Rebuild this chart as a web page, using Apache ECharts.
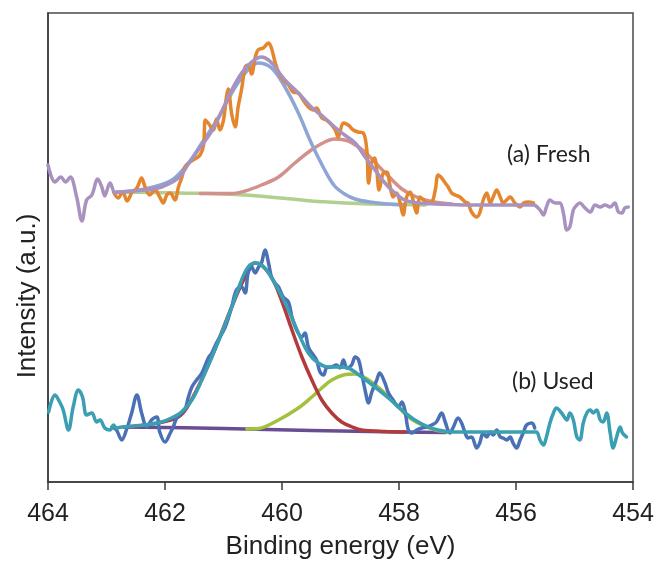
<!DOCTYPE html>
<html>
<head>
<meta charset="utf-8">
<script src="https://cdn.jsdelivr.net/npm/echarts@6/dist/echarts.min.js"></script>
<style>
html,body{margin:0;padding:0;background:#fff;}
#chart{width:661px;height:568px;}
</style>
</head>
<body>
<div id="chart"></div>
<script>
// ---------- axis ----------
const xTicks = [464, 462, 460, 458, 456, 454];
const xTitle = 'Binding energy (eV)';
const yTitle = 'Intensity (a.u.)';
const labelFresh = '(a) Fresh';
const labelUsed = '(b) Used';

// ---------- (a) Fresh ----------
const freshEnvE = [464.00,463.88,463.78,463.70,463.62,463.51,463.42,463.34,463.25,463.15,463.08,463.03,462.94,462.85,
  462.77,462.34,462.06,461.77,461.60,461.43,461.19,461.02,460.86,460.69,460.52,460.35,460.23,460.12,459.95,459.72,459.50,459.27,459.10,458.93,458.75,458.58,458.41,458.24,458.07,457.90,457.67,457.38,456.82,456.25,455.70,
  455.59,455.53,455.48,455.42,455.33,455.25,455.19,455.13,455.08,455.02,454.96,454.91,454.82,454.73,454.65,454.56,454.48,454.39,454.31,454.25,454.19,454.14,454.08];
const freshEnvI = [317,300,305,300,305,285,261,282,287,303,295,286,299,289,
  290,292,295,304,318,332,352,372,392,409,420,425,422,415,402,389,375,364,355,347,339,325,312,299,289,282,279,278,277,277,277,
  272,267,275,282,279,279,269,252,255,272,277,279,274,270,277,275,277,275,279,270,269,274,275];

const freshRawE = [462.88,462.80,462.72,462.65,462.56,462.48,462.40,462.34,462.26,462.17,462.09,462.03,461.97,461.91,461.83,461.77,461.71,461.66,461.57,461.49,461.40,461.34,461.31,461.25,461.17,461.12,461.06,461.00,460.95,460.92,460.86,460.80,460.75,460.69,460.63,460.58,460.52,460.46,460.41,460.32,460.23,460.18,460.12,460.06,459.98,459.89,459.81,459.72,459.64,459.55,459.46,459.41,459.32,459.24,459.15,459.09,459.04,458.95,458.87,458.78,458.70,458.61,458.55,458.52,458.47,458.42,458.38,458.34,458.27,458.21,458.15,458.10,458.04,457.98,457.93,457.87,457.81,457.76,457.70,457.64,457.58,457.53,457.44,457.38,457.33,457.27,457.21,457.16,457.10,457.04,456.96,456.87,456.82,456.76,456.67,456.62,456.56,456.50,456.44,456.39,456.33,456.27,456.22,456.16,456.10,456.02,455.93,455.87,455.79,455.70];
const freshRawI = [290,284,290,281,290,294,304,295,287,292,285,279,287,289,282,295,305,315,320,323,327,337,362,358,352,363,352,362,385,393,368,355,375,393,415,417,408,424,432,434,439,434,420,410,402,397,390,389,382,375,372,374,364,362,357,352,345,359,357,352,350,349,332,299,319,324,312,292,309,310,295,285,289,279,267,285,290,282,269,285,282,279,280,292,307,304,299,295,289,287,285,280,279,270,265,269,282,289,279,285,292,285,279,282,285,279,275,279,280,279];

const freshPeak1E = [462.83,462.34,461.88,461.60,461.37,461.08,460.86,460.63,460.41,460.18,459.95,459.72,459.50,459.27,459.10,458.93,458.75,458.50,458.20,457.90];
const freshPeak1I = [290,293,302,319,339,365,389,409,419,414,395,369,339,312,296,288,283,280,278,277];

const freshPeak2E = [461.40,460.86,460.63,460.35,460.06,459.78,459.50,459.27,459.10,458.93,458.80,458.60,458.40,458.20,457.95,457.70,457.40,457.10];
const freshPeak2I = [288.5,288.5,291,297,305,319,332,340,343,342,339,331,319,307,293,285,280,278];

const freshBaseE = [462.83,461.77,460.63,459.50,458.93,458.50,457.90,457.55];
const freshBaseI = [290,289,287,281,279,278,277.5,277];

// ---------- (b) Used ----------
const usedEnvE = [463.99,463.88,463.80,463.74,463.65,463.57,463.48,463.41,463.34,463.25,463.17,463.11,463.03,462.94,462.88,462.83,462.74,
  462.34,462.06,461.89,461.72,461.54,461.37,461.20,461.03,460.86,460.69,460.58,460.46,460.35,460.23,460.06,459.89,459.72,459.55,459.38,459.21,459.04,458.87,458.64,458.41,458.18,457.95,457.73,457.50,457.33,457.10,456.53,455.75,
  455.65,455.59,455.53,455.48,455.42,455.36,455.31,455.22,455.13,455.08,455.02,454.96,454.91,454.85,454.79,454.73,454.68,454.62,454.56,454.51,454.45,454.39,454.34,454.28,454.22,454.18,454.11];
const usedEnvI = [70,87,80,72,52,75,92,85,67,69,60,62,54,52,57,54,55,
  57,60,64,70,82,102,125,149,175,202,215,219,217,209,192,172,149,129,119,115,115,114,105,95,84,72,62,55,52,50,50,50,
  50,42,37,45,59,69,74,69,62,69,62,45,42,59,69,72,69,72,62,60,69,49,34,45,55,49,45];

const usedRawE = [462.91,462.83,462.74,462.66,462.57,462.48,462.40,462.31,462.23,462.14,462.09,462.00,461.91,461.86,461.80,461.72,461.66,461.60,461.54,461.46,461.37,461.26,461.20,461.12,460.97,460.86,460.78,460.69,460.63,460.58,460.52,460.46,460.40,460.35,460.29,460.23,460.18,460.12,460.06,459.98,459.89,459.83,459.75,459.66,459.61,459.55,459.49,459.41,459.35,459.29,459.24,459.15,459.07,459.01,458.95,458.89,458.81,458.75,458.69,458.64,458.58,458.52,458.47,458.38,458.33,458.24,458.18,458.10,458.01,457.95,457.90,457.84,457.78,457.70,457.61,457.53,457.44,457.36,457.27,457.21,457.13,457.07,456.99,456.93,456.87,456.82,456.76,456.67,456.62,456.56,456.50,456.44,456.39,456.33,456.27,456.22,456.16,456.10,456.05,455.99,455.93,455.87,455.82,455.73,455.68];
const usedRawI = [55,52,42,52,69,87,69,55,62,65,50,40,49,55,64,69,72,85,95,102,109,124,129,139,155,175,192,195,189,209,215,209,215,219,232,219,205,199,195,185,180,165,152,145,149,135,129,122,110,107,114,115,117,114,122,114,117,125,122,109,92,79,89,102,109,99,89,82,75,80,72,52,49,52,54,55,57,60,69,60,49,55,64,59,49,44,45,34,39,49,45,50,47,52,45,44,42,45,39,34,42,50,57,59,54];

const usedPeak1E = [462.70,462.34,461.77,461.54,461.20,460.86,460.63,460.46,460.35,460.18,460.01,459.83,459.66,459.49,459.32,459.15,458.98,458.80,458.64,458.24,457.90];
const usedPeak1I = [55,57,65,83,125,175,205,219,217,205,182,152,125,102,82,69,60,55,52,50.5,50];

const usedPeak2E = [460.60,460.40,460.06,459.72,459.49,459.32,459.15,458.95,458.75,458.52,458.30,458.07,457.84,457.61,457.38,457.16];
const usedPeak2I = [53,53.5,62,74,85,94,102,107,108,102,92,79,65,57,52,50];

const usedBaseE = [462.70,461.00,459.50,458.50,457.20];
const usedBaseI = [55,53.5,51.5,50.5,49.5];

// ---------- build ----------
function zip(e, i){ return e.map((v, k) => [v, i[k]]); }
function line(name, e, i, color, width, z){
  return {
    name: name, type: 'line', data: zip(e, i), showSymbol: false, symbol: 'none',
    smooth: 0.35, z: z,
    lineStyle: { color: color, width: width, cap: 'round', join: 'round' },
    emphasis: { disabled: true }
  };
}

const chart = echarts.init(document.getElementById('chart'), null, { renderer: 'canvas' });
const axisFont = 'Liberation Sans, Arial, sans-serif';
chart.setOption({
  animation: false,
  backgroundColor: '#ffffff',
  grid: { left: 48, right: 28, top: 13, bottom: 86, show: true, borderColor: '#4a4a4a', borderWidth: 1.5, backgroundColor: 'transparent' },
  xAxis: {
    type: 'value', inverse: true, min: 454, max: 464, interval: 2,
    axisLine: { show: true, lineStyle: { color: '#3a3a3a', width: 1.5 } },
    axisTick: { show: true, length: 8, lineStyle: { color: '#3a3a3a', width: 1.5 } },
    axisLabel: { color: '#222', fontSize: 25, fontFamily: axisFont, margin: 20,
      formatter: v => xTicks.indexOf(v) >= 0 ? String(v) : '' },
    splitLine: { show: false },
    name: xTitle, nameLocation: 'middle', nameGap: 52,
    nameTextStyle: { color: '#222', fontSize: 26, fontFamily: axisFont }
  },
  yAxis: {
    type: 'value', min: 0, max: 469,
    axisLine: { show: true, lineStyle: { color: '#3a3a3a', width: 1.5 } },
    axisTick: { show: false }, axisLabel: { show: false }, splitLine: { show: false }
  },
  graphic: [
    { type: 'text', x: 28, y: 296, rotation: Math.PI / 2,
      style: { text: yTitle, fill: '#222', font: '26px ' + axisFont, align: 'center', verticalAlign: 'middle' } },
    { type: 'text', left: 507, top: 143,
      style: { text: labelFresh, fill: '#222', font: '23px Lato, "Open Sans", sans-serif' } },
    { type: 'text', left: 512, top: 370,
      style: { text: labelUsed, fill: '#222', font: '23px Lato, "Open Sans", sans-serif' } }
  ],
  series: [
    line('fresh baseline', freshBaseE, freshBaseI, '#b2cf8e', 3.5, 2),
    line('fresh peak 2', freshPeak2E, freshPeak2I, '#d3918e', 3.5, 3),
    line('fresh peak 1', freshPeak1E, freshPeak1I, '#8ea6d6', 3.5, 4),
    line('fresh raw', freshRawE, freshRawI, '#e4862e', 3.5, 5),
    line('fresh envelope', freshEnvE, freshEnvI, '#a892c0', 3.5, 6),
    line('used baseline', usedBaseE, usedBaseI, '#6a4c93', 3.5, 2),
    line('used peak 2', usedPeak2E, usedPeak2I, '#a3c03e', 3.5, 3),
    line('used peak 1', usedPeak1E, usedPeak1I, '#b23a3a', 3.5, 4),
    line('used raw', usedRawE, usedRawI, '#4a70b6', 3.5, 5),
    line('used envelope', usedEnvE, usedEnvI, '#3a9fb3', 3.5, 6)
  ]
});
</script>
</body>
</html>
